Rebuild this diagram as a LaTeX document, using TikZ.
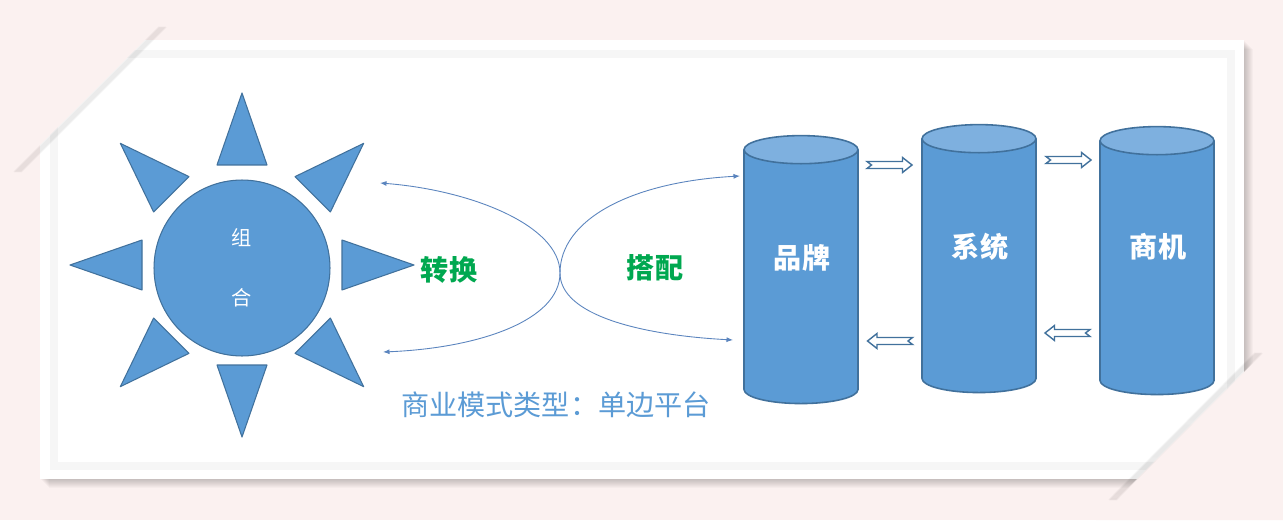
\documentclass[tikz,border=0pt]{standalone}
\usepackage{fontspec}
\newfontfamily\cjk{Noto Sans CJK SC}
\usepackage{tikz}
\usetikzlibrary{arrows.meta,positioning,shapes.geometric,calc}

\definecolor{bgpink}{HTML}{FBF1F0}
\definecolor{sunblue}{HTML}{5B9BD5}
\definecolor{edgeblue}{HTML}{41719C}
\definecolor{topblue}{HTML}{7EB0DF}
\definecolor{curveblue}{HTML}{5A84BE}
\definecolor{txtgreen}{HTML}{00A850}

\begin{document}
\begin{tikzpicture}[
  x=0.02cm, y=-0.02cm,
  ray/.style={fill=sunblue, draw=edgeblue, line width=0.6pt, line join=round},
  sunc/.style={circle, fill=sunblue, draw=edgeblue, line width=0.6pt,
               minimum size=3.52cm, text=white, align=center,
               font=\cjk\fontsize{11.5}{34}\selectfont},
  cyl/.style={cylinder, shape border rotate=90, draw=edgeblue, line width=0.9pt,
              cylinder uses custom fill, cylinder body fill=sunblue,
              cylinder end fill=topblue, aspect=0.5,
              minimum width=2.28cm, minimum height=5.36cm, inner sep=0pt,
              font=\cjk\bfseries\fontsize{16}{18}\selectfont},
  cyllab/.style={text=white, font=\cjk\bfseries\fontsize{16}{18}\selectfont},
  word/.style={font=\cjk\bfseries\fontsize{16}{18}\selectfont, text=txtgreen},
  curve/.style={draw=curveblue, line width=0.5pt},
  tip/.style={-{Latex[length=1.3mm,width=1mm]}},
  blockarr/.style={fill=white, draw=edgeblue, line width=0.8pt, line join=miter}
]
\useasboundingbox (0,0) rectangle (1283,520);
% page and frame
\fill[bgpink] (0,0) rectangle (1283,520);
\foreach \s in {1,...,9}
  \fill[black, opacity=0.025] (40+\s,40+\s) rectangle (1244+\s,479+\s);
\fill[white] (40,40) rectangle (1244,479);
\foreach \s in {0,...,7}
  \draw[black, opacity=0.035] (50+\s,50+\s) rectangle (1234-\s,469-\s);
% folded corners
\fill[bgpink] (0,0) -- (185,0) -- (0,185) -- cycle;
\foreach \s in {1,...,8}
  \draw[black, opacity=0.03, line width=1pt] (158+\s,27) -- (13+\s,172);
\fill[bgpink] (1283,333) -- (1283,520) -- (1096,520) -- cycle;
\foreach \s in {1,...,8}
  \draw[black, opacity=0.03, line width=1pt] (1263-\s,353) -- (1117-\s,500);

% sun
\foreach \a in {0,45,...,315}
  \draw[ray, shift={(242,265)}, rotate=\a] (172,0) -- (100,25) -- (100,-25) -- cycle;
\node[sunc] (sun) at (242,268) {组\\合};

% curves
\coordinate (lt) at (380,183);
\coordinate (lb) at (383,352);
\coordinate (rt) at (740,176);
\coordinate (rb) at (733,340);
\coordinate (mid) at (560,273);
\draw[curve, tip] (mid) .. controls (560,225) and (470,190) .. (lt);
\draw[curve, tip] (mid) .. controls (560,320) and (480,348) .. (lb);
\draw[curve, tip] (mid) .. controls (560,220) and (630,182) .. (rt);
\draw[curve, tip] (mid) .. controls (560,315) and (640,335) .. (rb);
\node[word] (zh) at (449,270) {转换};
\node[word] (dp) at (655,268) {搭配};

% cylinders
\node[cyl] (pp) at (801,277) {\phantom{品牌}};
\node[cyl] (xt) at (979,266) {\phantom{系统}};
\node[cyl] (sj) at (1157,268) {\phantom{商机}};
\node[cyllab] (ppt) at (802,258) {品牌};
\node[cyllab] (xtt) at (980,247) {系统};
\node[cyllab] (sjt) at (1158,247) {商机};

% notched arrows
\foreach \x/\y/\d in {889.5/165/1, 1068.5/160/1, 890/341/-1, 1067.5/333/-1}
  \draw[blockarr, shift={(\x,\y)}, xscale=\d]
    (-22.5,-3.5) -- (13,-3.5) -- (13,-7.5) -- (22.5,0) -- (13,7.5)
    -- (13,3.5) -- (-22.5,3.5) -- (-18,0) -- cycle;

\node[font=\cjk\fontsize{16}{18}\selectfont, text=sunblue] (cap) at (556,405)
  {商业模式类型：单边平台};
\end{tikzpicture}
\end{document}
